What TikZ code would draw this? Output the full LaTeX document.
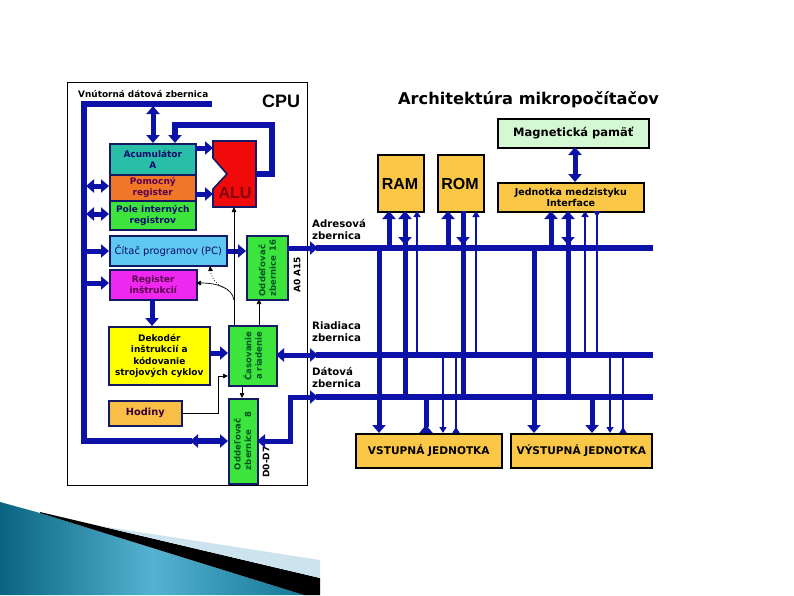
\documentclass[tikz,border=0pt]{standalone}
\usepackage{fontspec}
\setmainfont{DejaVu Sans}
\newfontfamily\arialf{Liberation Sans}
\usetikzlibrary{arrows.meta}
\definecolor{busblue}{RGB}{12,18,168}
\definecolor{boxnavy}{RGB}{20,25,100}
\definecolor{accteal}{RGB}{40,190,168}
\definecolor{pomorange}{RGB}{240,118,40}
\definecolor{cgreen}{RGB}{60,228,60}
\definecolor{pcblue}{RGB}{95,200,240}
\definecolor{regmag}{RGB}{238,40,238}
\definecolor{dekyellow}{RGB}{255,255,0}
\definecolor{hodorange}{RGB}{248,190,70}
\definecolor{memyellow}{RGB}{250,200,70}
\definecolor{maggreen}{RGB}{212,248,212}
\definecolor{alured}{RGB}{240,10,10}
\definecolor{aludark}{RGB}{130,0,10}
\definecolor{txtpurple}{RGB}{90,0,80}
\definecolor{txtnavy}{RGB}{10,10,110}
\definecolor{txtgreen}{RGB}{0,80,40}
\definecolor{tealA}{RGB}{8,100,128}
\definecolor{tealB}{RGB}{85,178,208}
\definecolor{tealC}{RGB}{20,118,150}
\definecolor{stripe}{RGB}{205,228,238}
\tikzset{
 BT/.tip={Triangle[width=13pt,length=8pt]},
 ST/.tip={Triangle[width=4.5pt,length=5pt]},
 MT/.tip={Triangle[width=7pt,length=6pt]},
}
\begin{document}
\begin{tikzpicture}[x=1pt,y=-1pt,
 cpubox/.style={draw=boxnavy, line width=1.6pt, inner sep=0pt, anchor=north west, align=center, font=\bfseries\fontsize{9}{11}\selectfont},
 membox/.style={draw=black, line width=1.6pt, fill=memyellow, inner sep=0pt, anchor=north west, align=center},
 busline/.style={busblue, line width=5.5pt},
 busarrow/.style={busblue, line width=5pt},
 sig/.style={busblue, line width=1.8pt},
 ctl/.style={black, line width=0.7pt},
 lbl/.style={inner sep=0pt, font=\bfseries\fontsize{10.2}{12}\selectfont, align=left, anchor=north west},
 rot/.style={rotate=90, inner sep=0pt, align=left, font=\bfseries\fontsize{8.5}{10.5}\selectfont}
]
\useasboundingbox (0,0) rectangle (794,595);
\fill[white] (0,0) rectangle (794,595);

% decoration bottom-left
\shade[left color=tealA, right color=tealC, middle color=tealB] (0,502) -- (40,513) -- (304,595) -- (0,595) -- cycle;
\fill[black] (40,512) -- (320,578) -- (320,595) -- (304,595) -- (40,513) -- cycle;
\fill[stripe] (100,526) -- (320,560) -- (320,578) -- cycle;

% CPU frame
\draw[black, line width=0.8pt] (67,82) rectangle (307,485);
\node[anchor=base west, inner sep=0pt, font=\bfseries\fontsize{8.9}{10}\selectfont] (vdz) at (78,97) {Vnútorná dátová zbernica};
\node[anchor=base west, inner sep=0pt, font=\arialf\bfseries\fontsize{18}{18}\selectfont] (cpu) at (262,107) {CPU};
\node[anchor=base west, inner sep=0pt, font=\bfseries\fontsize{16.2}{18}\selectfont] (title) at (398,104) {Architektúra mikropočítačov};

% CPU boxes
\node[cpubox, fill=accteal, minimum width=86pt, minimum height=31pt, text=txtnavy] (acc) at (109,143) {Acumulátor\\A};
\node[cpubox, fill=pomorange, minimum width=86pt, minimum height=26pt, text=txtpurple] (pom) at (109,174) {Pomocný\\register};
\node[cpubox, fill=cgreen, minimum width=86pt, minimum height=29pt, text=txtnavy] (pole) at (109,200) {Pole interných\\registrov};
\node[cpubox, fill=pcblue, minimum width=117pt, minimum height=30pt, text=txtnavy, font=\fontsize{10}{12}\selectfont] (pc) at (109,235) {Čítač programov (PC)};
\node[cpubox, fill=regmag, minimum width=87pt, minimum height=30pt, text=txtpurple] (reg) at (109,269) {Register\\inštrukcií};
\node[cpubox, fill=dekyellow, minimum width=101pt, minimum height=58pt, font=\bfseries\fontsize{9}{11.5}\selectfont] (dek) at (108,326) {Dekodér\\inštrukcií a\\kódovanie\\strojových cyklov};
\node[cpubox, fill=hodorange, minimum width=73pt, minimum height=25pt, text=txtpurple!60!black, font=\bfseries\fontsize{9.8}{11}\selectfont] (hod) at (108,400) {Hodiny};
\node[cpubox, fill=cgreen, minimum width=48pt, minimum height=60pt] (cas) at (228,325) {};
\node[rot, text=txtgreen, align=center] (cast) at (cas.center) {Časovanie\\a riadenie};
\node[cpubox, fill=cgreen, minimum width=41pt, minimum height=64pt] (odd16) at (246,235) {};
\node[rot, text=txtgreen, text width=57pt] (odd16t) at (odd16.center) {Oddeľovač\\zbernice\hfill 16};
\node[cpubox, fill=cgreen, minimum width=29pt, minimum height=85pt] (odd8) at (228,398) {};
\node[rot, text=txtgreen, text width=58pt] (odd8t) at (242.5,441) {Oddeľovač\\zbernice\hfill 8};

% ALU
\filldraw[fill=alured, draw=boxnavy, line width=1.6pt] (213,141) -- (256,141) -- (256,207) -- (213,207) -- (213,189) -- (227,174) -- (213,158) -- cycle;
\node[font=\arialf\bfseries\fontsize{16}{16}\selectfont, text=aludark, inner sep=0pt] (alu) at (235,193) {ALU};

% rotated labels
\node[rot, font=\bfseries\fontsize{9}{10}\selectfont] (a015) at (297,275) {A0 A15};
\node[rot, font=\bfseries\fontsize{9}{10}\selectfont] (d07) at (266,462) {D0-D7};

% internal bus
\draw[busblue, line width=6pt] (212,104) -- (84,104) -- (84,441) -- (192,441);
\draw[busarrow, line width=6pt, {BT}-{BT}] (190,441) -- (228,441);
\draw[busarrow, {BT}-{BT}] (153,106) -- (153,143);
\draw[busarrow, line width=6pt, -{BT}] (256,174) -- (272,174) -- (272,125) -- (175,125) -- (175,143);
\draw[busarrow, -{BT}] (195,148) -- (213,148);
\draw[busarrow, -{BT}] (195,194) -- (213,194);
\draw[busarrow, {BT}-{BT}] (86,186) -- (109,186);
\draw[busarrow, {BT}-{BT}] (86,214) -- (109,214);
\draw[busarrow, -{BT}] (84,251) -- (109,251);
\draw[busarrow, -{BT}] (84,283) -- (109,283);
\draw[busarrow, -{BT}] (152,299) -- (152,326);
\draw[busarrow, -{BT}] (226,251) -- (246,251);
\draw[busarrow, -{BT}] (209,353) -- (228,353);

% thin control lines in CPU
\draw[ctl, -{ST}] (234,325) -- (234,207);
\draw[ctl, -{ST}] (234,300) .. controls (232,288) and (218,283) .. (196,283);
\draw[ctl, dotted, -{ST}] (228,290) .. controls (215,285) and (211,276) .. (210,266);
\draw[ctl, -{ST}] (259,325) -- (259,299);
\draw[ctl, -{ST}] (242,385) -- (242,398);
\draw[ctl, -{ST}] (181,413) -- (218,413) -- (218,376) -- (228,376);

% external buses
\draw[busarrow, -{BT}] (287,248) -- (318,248);
\draw[busarrow, {BT}-{BT}] (276,355) -- (318,355);
\draw[busarrow, {BT}-{BT}] (257,441) -- (290,441) -- (290,397) -- (318,397);
\draw[busline] (316,248) -- (653,248);
\draw[busline] (316,355) -- (653,355);
\draw[busline] (316,397) -- (653,397);
\node[lbl] (adrl) at (312,219) {Adresová\\zbernica};
\node[lbl] (riadl) at (312,322) {Riadiaca\\zbernica};
\node[lbl] (datl) at (312,367) {Dátová\\zbernica};

% memory and IO boxes
\node[membox, fill=maggreen, minimum width=151pt, minimum height=29pt, font=\bfseries\fontsize{11.5}{13}\selectfont] (mag) at (497,118) {Magnetická pamäť};
\node[membox, minimum width=146pt, minimum height=29pt, font=\bfseries\fontsize{9.5}{11}\selectfont] (intf) at (497,182) {Jednotka medzistyku\\Interface};
\node[membox, minimum width=46pt, minimum height=57pt] (ram) at (377,154) {};
\node[inner sep=0pt, font=\arialf\bfseries\fontsize{16}{16}\selectfont] (ramt) at (400,184) {RAM};
\node[membox, minimum width=46pt, minimum height=57pt] (rom) at (437,154) {};
\node[inner sep=0pt, font=\arialf\bfseries\fontsize{16}{16}\selectfont] (romt) at (460,184) {ROM};
\node[membox, minimum width=146pt, minimum height=34pt, font=\bfseries\fontsize{10.6}{12}\selectfont] (vst) at (355,433) {VSTUPNÁ JEDNOTKA};
\node[membox, minimum width=141pt, minimum height=34pt, font=\bfseries\fontsize{10.6}{12}\selectfont] (vys) at (510,433) {VÝSTUPNÁ JEDNOTKA};
\draw[busarrow, {BT}-{BT}] (575,147) -- (575,182);

% RAM connections
\draw[busarrow, -{BT}] (379,248) -- (379,433);
\draw[busarrow, -{BT}] (389,248) -- (389,211);
\draw[busarrow, {BT}-{BT}] (405,211) -- (405,245);
\draw[busarrow] (405,240) -- (405,397);
\draw[sig, -{MT}] (417,355) -- (417,211);
% ROM connections
\draw[busarrow, -{BT}] (448,248) -- (448,211);
\draw[busarrow, -{BT}] (463,211) -- (463,245);
\draw[busarrow] (463,240) -- (463,397);
\draw[sig, -{MT}] (476,355) -- (476,211);
% interface connections
\draw[busarrow, -{BT}] (534,248) -- (534,433);
\draw[busarrow, -{BT}] (551,248) -- (551,211);
\draw[busarrow, {BT}-{BT}] (568,211) -- (568,245);
\draw[busarrow] (568,240) -- (568,397);
\draw[sig, -{MT}] (585,355) -- (585,211);
\draw[sig, {MT[reversed]}-] (597,211) -- (597,355);
% input unit
\draw[busarrow, -{BT[reversed]}] (426,397) -- (426,433);
\draw[sig, -{MT}] (443,355) -- (443,433);
\draw[sig, -{MT[reversed]}] (456,355) -- (456,433);
% output unit
\draw[busarrow, -{BT}] (592,397) -- (592,433);
\draw[sig, -{MT}] (610,355) -- (610,433);
\draw[sig, -{MT[reversed]}] (623,355) -- (623,433);
\end{tikzpicture}
\end{document}
